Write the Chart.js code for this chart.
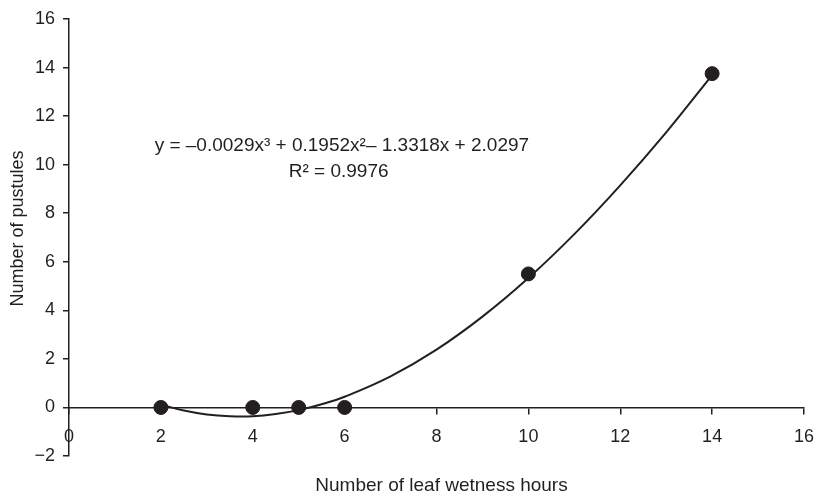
<!DOCTYPE html>
<html>
<head>
<meta charset="utf-8">
<script src="https://cdn.jsdelivr.net/npm/chart.js@4.4.0/dist/chart.umd.min.js"></script>
<style>
  html, body { margin: 0; padding: 0; background: #fff; }
  #wrap { width: 816px; height: 495px; position: relative; }
</style>
</head>
<body>
<div id="wrap"><canvas id="c"></canvas></div>
<script>
// Observed data points
const wetnessHours = [2, 4, 5, 6, 10, 14];
const pustules = [0, 0, 0, 0, 5.5, 13.75];

// Trendline (polynomial fit curve)
const trendX = [2, 2.5, 3, 3.5, 4, 4.5, 5, 5.5, 6, 7, 8, 9, 10, 11, 12, 13, 14];
const trendY = [0.12, -0.13, -0.29, -0.36, -0.36, -0.27, -0.11, 0.13, 0.44, 1.28, 2.38, 3.74, 5.33, 7.14, 9.15, 11.33, 13.69];

const xTicks = [0, 2, 4, 6, 8, 10, 12, 14, 16];
const yTicks = [-2, 0, 2, 4, 6, 8, 10, 12, 14, 16];

const xTitle = 'Number of leaf wetness hours';
const yTitle = 'Number of pustules';
const equationText = "y = \u20130.0029x\u00B3 + 0.1952x\u00B2\u2013 1.3318x + 2.0297";
const r2Text = "R\u00B2 = 0.9976";

const FONT = "'Liberation Sans', Arial, sans-serif";
const INK = '#231f20';

const textPlugin = {
  id: 'texts',
  afterDatasetsDraw(chart) {
    const ctx = chart.ctx;
    const xs = chart.scales.x, ys = chart.scales.y;
    const area = chart.chartArea;
    ctx.save();
    ctx.fillStyle = INK;
    ctx.textAlign = 'center';
    ctx.textBaseline = 'middle';
    // trendline equation
    ctx.font = '19px ' + FONT;
    ctx.fillText(equationText, xs.getPixelForValue(5.94), ys.getPixelForValue(10.76));
    ctx.fillText(r2Text, xs.getPixelForValue(5.87), ys.getPixelForValue(9.7));
    // axis titles
    ctx.font = '19px ' + FONT;
    ctx.fillText(xTitle, (area.left + area.right) / 2 + 5, area.bottom + 30);
    ctx.save();
    ctx.translate(18, (area.top + area.bottom) / 2 - 9);
    ctx.rotate(-Math.PI / 2);
    ctx.font = '18px ' + FONT;
    ctx.fillText(yTitle, 0, 0);
    ctx.restore();
    ctx.restore();
  }
};

new Chart(document.getElementById('c'), {
  type: 'scatter',
  data: {
    datasets: [
      {
        type: 'line',
        data: trendX.map((x, i) => ({ x: x, y: trendY[i] })),
        borderColor: INK,
        borderWidth: 2,
        pointRadius: 0,
        tension: 0.4,
        fill: false,
        order: 2
      },
      {
        data: wetnessHours.map((x, i) => ({ x: x, y: pustules[i] })),
        backgroundColor: INK,
        borderColor: INK,
        pointRadius: 7,
        pointHoverRadius: 7,
        order: 1
      }
    ]
  },
  options: {
    responsive: true,
    maintainAspectRatio: false,
    animation: false,
    devicePixelRatio: 1,
    layout: { autoPadding: false, padding: { top: 19, right: 12, left: 0, bottom: 39 } },
    plugins: {
      legend: { display: false },
      tooltip: { enabled: false },
      title: { display: false }
    },
    scales: {
      x: {
        type: 'linear',
        position: { y: 0 },
        min: 0, max: 16,
        afterBuildTicks: (s) => { s.ticks = xTicks.map(v => ({ value: v })); },
        afterFit: (s) => { s.height = 0; s.paddingLeft = 0; s.paddingRight = 0; },
        ticks: { color: INK, font: { family: FONT, size: 18 }, padding: 13, maxRotation: 0 },
        grid: { drawOnChartArea: false, drawTicks: true, tickLength: 6, color: INK, lineWidth: 1.5 },
        border: { display: true, color: INK, width: 1.5 },
        title: { display: false, text: xTitle }
      },
      y: {
        type: 'linear',
        position: 'left',
        min: -2, max: 16,
        afterBuildTicks: (s) => { s.ticks = yTicks.map(v => ({ value: v })); },
        afterFit: (s) => { s.width = 69; s.paddingTop = 0; s.paddingBottom = 0; },
        ticks: {
          color: INK, font: { family: FONT, size: 18 }, padding: 8,
          callback: (v) => (v < 0 ? '\u2212' + Math.abs(v) : String(v))
        },
        grid: { drawOnChartArea: false, drawTicks: true, tickLength: 6, color: INK, lineWidth: 1.5 },
        border: { display: true, color: INK, width: 1.5 },
        title: { display: false, text: yTitle }
      }
    }
  },
  plugins: [textPlugin]
});
</script>
</body>
</html>
